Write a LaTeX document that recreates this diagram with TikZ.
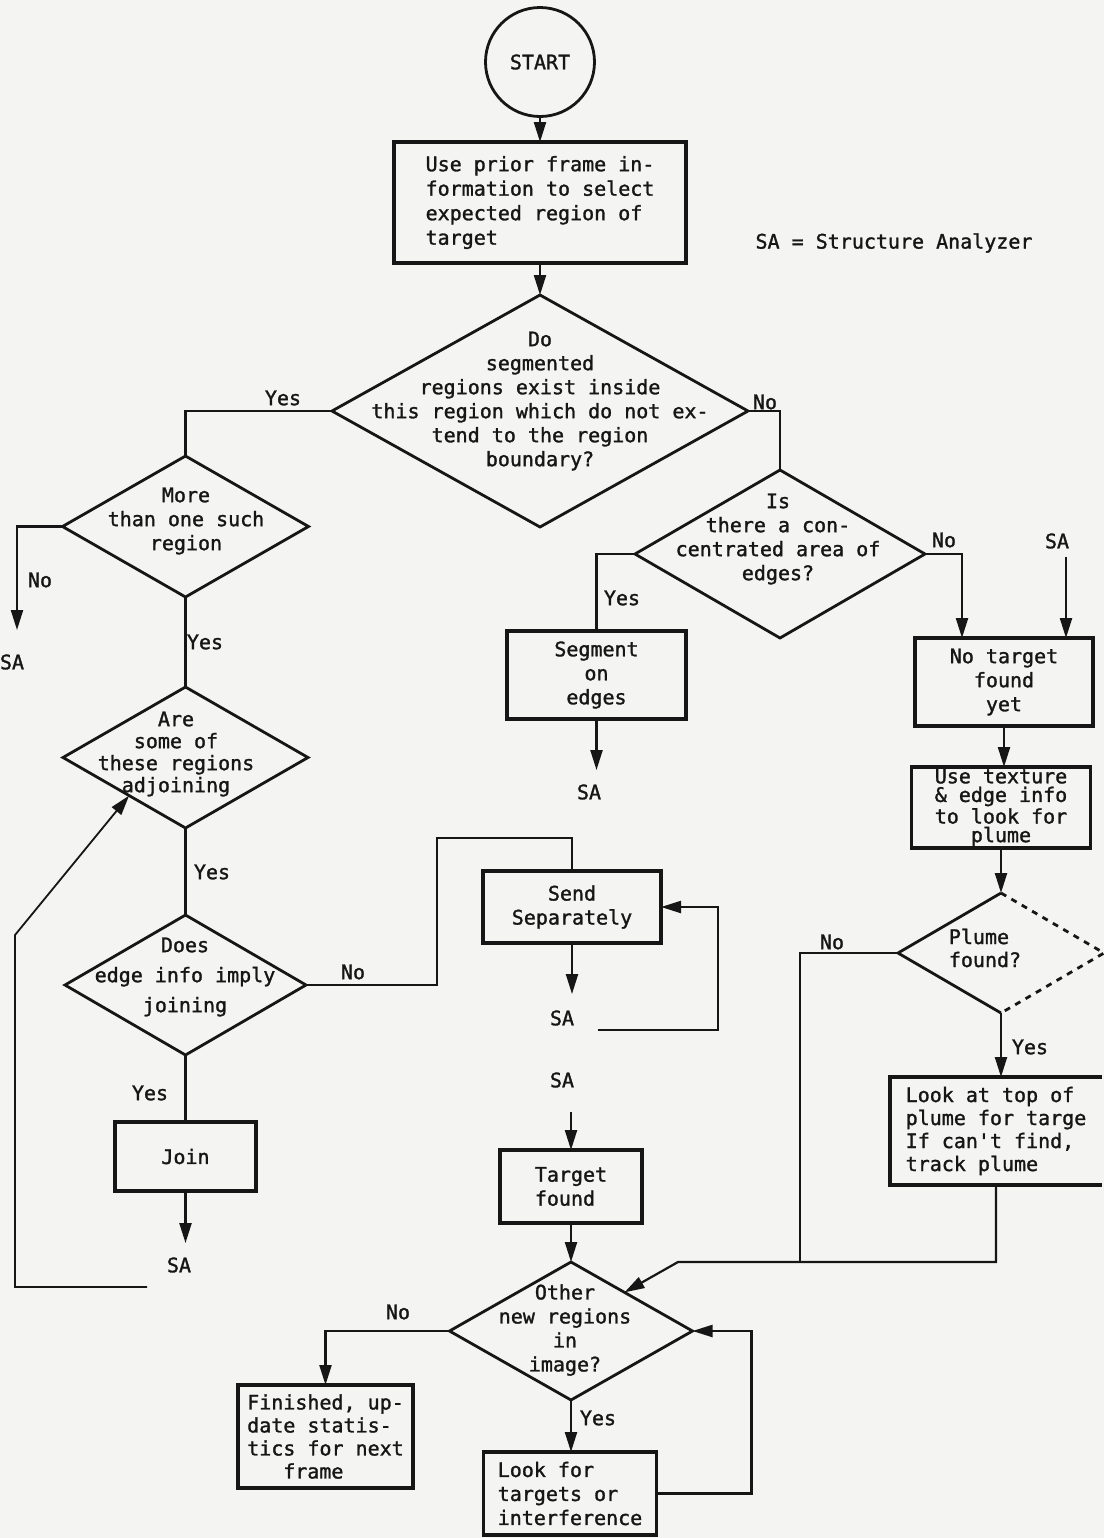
\documentclass[tikz,border=0pt]{standalone}
\usepackage{fontspec}
\newfontfamily\monof[FakeBold=1.4,AutoFakeBold=1.4]{DejaVu Sans Mono}
\usetikzlibrary{shapes.geometric,arrows.meta,calc}
\definecolor{paper}{RGB}{244,244,242}
\definecolor{ink}{RGB}{22,22,22}
\newcommand\fsz[1]{\fontsize{10}{#1}\selectfont\bfseries}
\begin{document}
\begin{tikzpicture}[x=0.5pt,y=-0.5pt,
  every node/.style={text=ink},
  boxn/.style={draw=ink,line width=1.6pt,rectangle,inner sep=0pt,outer sep=0pt,align=center,font={\monof\fsz{12pt}}},
  dia/.style={draw=ink,line width=1.4pt,diamond,inner sep=0pt,outer sep=0pt},
  dianodraw/.style={diamond,inner sep=0pt,outer sep=0pt},
  diaedge/.style={draw=ink,line width=1.4pt},
  boxline/.style={draw=ink,line width=1.6pt},
  circ/.style={draw=ink,line width=1.4pt,circle,inner sep=0pt,outer sep=0pt,font={\monof\fsz{12pt}}},
  txt/.style={font={\monof\fsz{12pt}},align=center,inner sep=0pt},
  lbl/.style={font={\monof\fsz{12pt}},inner sep=0pt},
  conn/.style={draw=ink,line width=1.1pt},
  arr/.style={conn,-{Triangle[length=10pt,width=6pt]}}
]
\fill[paper] (0,0) rectangle (1104,1538);
\useasboundingbox (0,0) rectangle (1104,1538);

% ---- nodes ----
\node[circ,minimum size=54.5pt] (start) at (540,62) {START};
\node[boxn,minimum width=146pt,minimum height=60.5pt,align=left,font={\monof\fsz{12.25pt}}] (b1) at (540,202.5)
  {Use prior frame in-\\formation to select\\expected region of\\target};
\node[lbl] (legend) at (894,243) {SA = Structure Analyzer};

\node[dia,minimum width=208pt,minimum height=116pt] (d1) at (540,411) {};
\node[txt] (d1t) at (540,401) {Do\\segmented\\regions exist inside\\this region which do not ex-\\tend to the region\\boundary?};

\node[dia,minimum width=123pt,minimum height=70.5pt] (d2) at (185.5,526.5) {};
\node[txt] (d2t) at (186,521) {More\\than one such\\region};

\node[dia,minimum width=122.5pt,minimum height=70.5pt] (d3) at (185.5,757.5) {};
\node[txt,font={\monof\fsz{11pt}}] (d3t) at (176,754) {Are\\some of\\these regions\\adjoining};

\node[dia,minimum width=120.5pt,minimum height=70pt] (d4) at (185.5,985) {};
\node[txt,font={\monof\fsz{15pt}}] (d4t) at (185,977) {Does\\edge info imply\\joining};

\node[boxn,minimum width=70.5pt,minimum height=34.5pt] (join) at (185.5,1156.5) {Join};

\node[boxn,minimum width=89pt,minimum height=36pt] (send) at (572,907) {Send\\Separately};

\node[boxn,minimum width=71pt,minimum height=36.5pt,align=left] (tf) at (571,1186.5) {Target\\found};

\node[dia,minimum width=121.5pt,minimum height=69pt] (d5) at (571,1331) {};
\node[txt] (d5t) at (565,1330) {Other\\new regions\\in\\image?};

\node[boxn,minimum width=87.5pt,minimum height=51.5pt,align=left,font={\monof\fsz{11.5pt}}] (fin) at (325.5,1436.5)
  {Finished, up-\\date statis-\\tics for next\\\hspace*{18pt}frame};

\node[boxn,minimum width=86.5pt,minimum height=41.5pt,align=left] (lookb) at (570,1493.5)
  {Look for\\targets or\\interference};

\node[dia,minimum width=145pt,minimum height=84pt] (d6) at (780,554) {};
\node[txt] (d6t) at (778,539) {Is\\there a con-\\centrated area of\\edges?};

\node[boxn,minimum width=89.5pt,minimum height=44pt] (seg) at (596.5,675) {Segment\\on\\edges};

\node[boxn,minimum width=89pt,minimum height=44pt] (ntf) at (1004,682) {No target\\found\\yet};

\node[boxn,minimum width=89.5pt,minimum height=40.5pt,font={\monof\fsz{9.3pt}}] (ute) at (1001,807.5)
  {Use texture\\\& edge info\\to look for\\plume};

\node[dianodraw,minimum width=103pt,minimum height=60pt] (d7) at (1001,953) {};
\draw[diaedge] (d7.north) -- (d7.west) -- (d7.south);
\draw[diaedge,dashed] (d7.north) -- (d7.east) -- (d7.south);
\node[txt,align=left,font={\monof\fsz{11.5pt}}] (d7t) at (985,948) {Plume\\found?};

\node[rectangle,inner sep=0pt,outer sep=0pt,minimum width=106pt,minimum height=54pt,align=left,font={\monof\fsz{11.5pt}}] (lat) at (996,1131)
  {Look at top of\\plume for targe\\If can't find,\\track plume};
\draw[boxline] (lat.north east) -- (lat.north west) -- (lat.south west) -- (lat.south east);

% ---- SA terminals and labels ----
\node[lbl] (saL) at (12,662) {SA};
\node[lbl] (saJ) at (179,1265) {SA};
\node[lbl] (saS) at (562,1018) {SA};
\node[lbl] (saT) at (562,1080) {SA};
\node[lbl] (saG) at (589,792) {SA};
\node[lbl] (saR) at (1057,541) {SA};

\node[lbl] (y1) at (283,398) {Yes};
\node[lbl] (n1) at (765,402) {No};
\node[lbl] (n2) at (40,580) {No};
\node[lbl] (y2) at (205,642) {Yes};
\node[lbl] (y3) at (212,872) {Yes};
\node[lbl] (n3) at (353,972) {No};
\node[lbl] (y4) at (150,1093) {Yes};
\node[lbl] (y5) at (622,598) {Yes};
\node[lbl] (n4) at (944,540) {No};
\node[lbl] (n5) at (832,942) {No};
\node[lbl] (y6) at (1030,1047) {Yes};
\node[lbl] (n6) at (398,1312) {No};
\node[lbl] (y7) at (598,1418) {Yes};

% ---- helper coordinates ----
\coordinate (saLin) at (17,630);
\coordinate (nA) at (437,838);
\coordinate (loopA) at (598,1030);
\coordinate (ntfL) at ([xshift=23.5pt]ntf.north west);
\coordinate (ntfR) at ([xshift=-13.5pt]ntf.north east);
\coordinate (mA) at (800,1262);
\coordinate (mB) at (678,1262);
\coordinate (d5in) at ($(d5.north)!0.44!(d5.east)$);
\coordinate (lA) at (147,1287);
\coordinate (lB) at (15,935);
\coordinate (d3in) at ($(d3.west)!0.54!(d3.south)$);

% ---- connectors ----
\draw[arr] (start.south) -- (b1.north);
\draw[arr] (b1.south) -- (d1.north);
\draw[conn] (d1.west) -| (d2.north);
\draw[conn] (d1.east) -| (d6.north);
\draw[arr] (d2.west) -| (saLin);
\draw[conn] (d2.south) -- (d3.north);
\draw[conn] (d3.south) -- (d4.north);
\draw[conn] (d4.south) -- (join.north);
\draw[arr,shorten >=7pt] (join.south) -- (join.south |- saJ.north);
\draw[conn] (d4.east) -| (nA) -| (send.north);
\draw[arr,shorten >=8pt] (send.south) -- (send.south |- saS.north);
\draw[arr] (loopA) -- ++(120,0) |- (send.east);
\draw[arr] ([yshift=19pt]tf.north) -- (tf.north);
\draw[arr] (tf.south) -- (d5.north);
\draw[arr] (d5.west) -| (fin.north);
\draw[arr] (d5.south) -- (d5.south |- lookb.north);
\draw[arr] (lookb.east) -| ([xshift=29.5pt]d5.east) -- (d5.east);
\draw[conn] (d6.west) -| (seg.north);
\draw[arr,shorten >=7pt] (seg.south) -- (seg.south |- saG.north);
\draw[arr] (d6.east) -| (ntfL);
\draw[arr,shorten <=4pt] (ntfR |- saR.south) -- (ntfR);
\draw[arr] (ntf.south) -- (ntf.south |- ute.north);
\draw[arr] (ute.south) -- (ute.south |- d7.north);
\draw[arr] (d7.south) -- (d7.south |- lat.north);
\draw[conn] (d7.west) -| (mA);
\draw[arr] (lat.south) |- (mB) -- (d5in);
\draw[arr,line width=0.9pt] (lA) -| (lB) -- (d3in);
\end{tikzpicture}
\end{document}
